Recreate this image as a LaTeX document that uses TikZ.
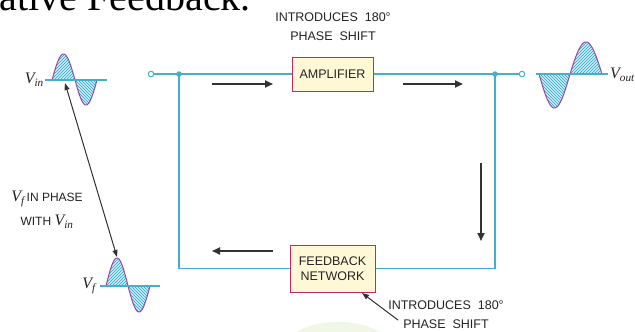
\documentclass[tikz,border=0pt]{standalone}
\usepackage{fontspec}
\setmainfont{Liberation Serif}
\setsansfont{Liberation Sans}
\usetikzlibrary{arrows.meta,patterns}
\definecolor{wire}{RGB}{70,175,205}
\definecolor{boxedge}{RGB}{185,45,95}
\definecolor{boxfill}{RGB}{255,248,215}
\definecolor{waveedge}{RGB}{150,70,165}
\definecolor{wavefill}{RGB}{205,240,246}
\definecolor{hatch}{RGB}{40,160,200}
\definecolor{arrowgray}{RGB}{50,50,50}
\definecolor{textgray}{RGB}{35,35,35}
\definecolor{greenglow}{RGB}{240,247,230}
\newcommand\mylobe[5]{%
  \path[preaction={fill=wavefill},pattern=#5,pattern color=hatch]
    plot[domain=0:180,samples=36] ({#1+#2*\x/180},{#3-(#4)*sin(\x)}) -- cycle;
  \draw[waveedge,line width=1pt]
    plot[domain=0:180,samples=36] ({#1+#2*\x/180},{#3-(#4)*sin(\x)});
}
\begin{document}
\begin{tikzpicture}[x=1pt,y=-1pt,
  wireline/.style={draw=wire,line width=1.2pt},
  axisline/.style={draw=wire,line width=1.3pt},
  blockbox/.style={draw=boxedge,fill=boxfill,line width=1pt,
    font=\sffamily\fontsize{12.5}{15}\selectfont,text=textgray,
    inner sep=2pt,align=center},
  flow/.style={draw=arrowgray,line width=1.8pt,-{Triangle[length=8pt,width=7pt]}},
  note/.style={font=\sffamily\fontsize{12.5}{19}\selectfont,text=textgray,align=center,inner sep=0pt},
  vlabel/.style={font=\itshape\fontsize{16}{16}\selectfont,text=textgray,inner sep=0pt},
  pointer/.style={draw=arrowgray,line width=1pt,-{Triangle[length=7pt,width=5pt]}},
  bothpointer/.style={draw=arrowgray,line width=1pt,{Triangle[length=7pt,width=5pt]}-{Triangle[length=7pt,width=5pt]}},
  terminal/.style={circle,draw=wire,fill=white,line width=1pt,inner sep=0pt,minimum size=5.5pt},
  junction/.style={circle,fill=wire,inner sep=0pt,minimum size=5.5pt},
]
\useasboundingbox (0,0) rectangle (635,332);
\clip (0,0) rectangle (635,332);
\fill[white] (0,0) rectangle (635,332);

% faint background glow
\fill[greenglow] (338,354) ellipse [x radius=58, y radius=32];

% title fragment
\node[anchor=base east,inner sep=0pt,font=\fontsize{40}{40}\selectfont,text=black] (title) at (251,10) {ative Feedback.};

% blocks
\node[blockbox,minimum width=81pt,minimum height=34pt] (amp) at (332.5,74) {AMPLIFIER};
\node[blockbox,minimum width=85pt,minimum height=47pt] (fb) at (332.5,268.5) {FEEDBACK\\NETWORK};

% junctions and corners
\coordinate (j1) at (179,74);
\coordinate (j2) at (495,74);
\coordinate (c1) at (179,268.5);
\coordinate (c2) at (495,268.5);
\coordinate (tin) at (151,74);
\coordinate (tout) at (522,74);

\draw[wireline] (tin) -- (j1) -- (amp.west);
\draw[wireline] (amp.east) -- (j2) -- (tout);
\draw[wireline] (j1) -- (c1) -- (fb.west);
\draw[wireline] (j2) -- (c2) -- (fb.east);
\node[terminal] (tinn) at (tin) {};
\node[terminal] (toutn) at (tout) {};
\node[junction] (j1n) at (j1) {};
\node[junction] (j2n) at (j2) {};

% flow arrows
\coordinate (f1a) at (212,84); \coordinate (f1b) at (273,84);
\coordinate (f2a) at (403,84); \coordinate (f2b) at (463,84);
\coordinate (f3a) at (481,163); \coordinate (f3b) at (481,241);
\coordinate (f4a) at (273,251); \coordinate (f4b) at (212,251);
\draw[flow] (f1a) -- (f1b);
\draw[flow] (f2a) -- (f2b);
\draw[flow] (f3a) -- (f3b);
\draw[flow] (f4a) -- (f4b);

% notes
\node[note] (topnote) at (333,27) {INTRODUCES\ \ 180°\\PHASE\ \ SHIFT};
\node[note] (botnote) at (446,315) {INTRODUCES\ \ 180°\\PHASE\ \ SHIFT};
\coordinate (pstart) at (398,320);
\coordinate (pend) at (362,293);
\draw[pointer] (pstart) -- (pend);

% input wave
\mylobe{52}{23}{80}{26}{north east lines}
\mylobe{75}{22}{80}{-25}{north west lines}
\draw[axisline] (45,80) -- (107,80);
\node[vlabel,anchor=east] (vin) at (44,80) {V\textsubscript{in}};

% output wave
\mylobe{539}{31}{74}{-34}{north west lines}
\mylobe{570}{32}{74}{32}{north east lines}
\draw[axisline] (536,74) -- (608,74);
\node[vlabel,anchor=west] (vout) at (610,75) {V\textsubscript{out}};

% feedback wave
\mylobe{106}{22}{286}{28}{north east lines}
\mylobe{128}{22}{286}{-26}{north west lines}
\draw[axisline] (100,286) -- (160,286);
\node[vlabel,anchor=east] (vf) at (96,286) {V\textsubscript{f}};

% phase relation
\coordinate (vinpt) at (65,83);
\coordinate (vfpt) at (117,257);
\draw[bothpointer] (vinpt) -- (vfpt);
\node[font=\sffamily\fontsize{12}{24}\selectfont,text=textgray,align=center,inner sep=0pt] (phase) at (47,210)
  {{\rmfamily\itshape\fontsize{16}{16}\selectfont V\textsubscript{f}}\,IN PHASE\\WITH {\rmfamily\itshape\fontsize{16}{16}\selectfont V\textsubscript{in}}};
\end{tikzpicture}
\end{document}
